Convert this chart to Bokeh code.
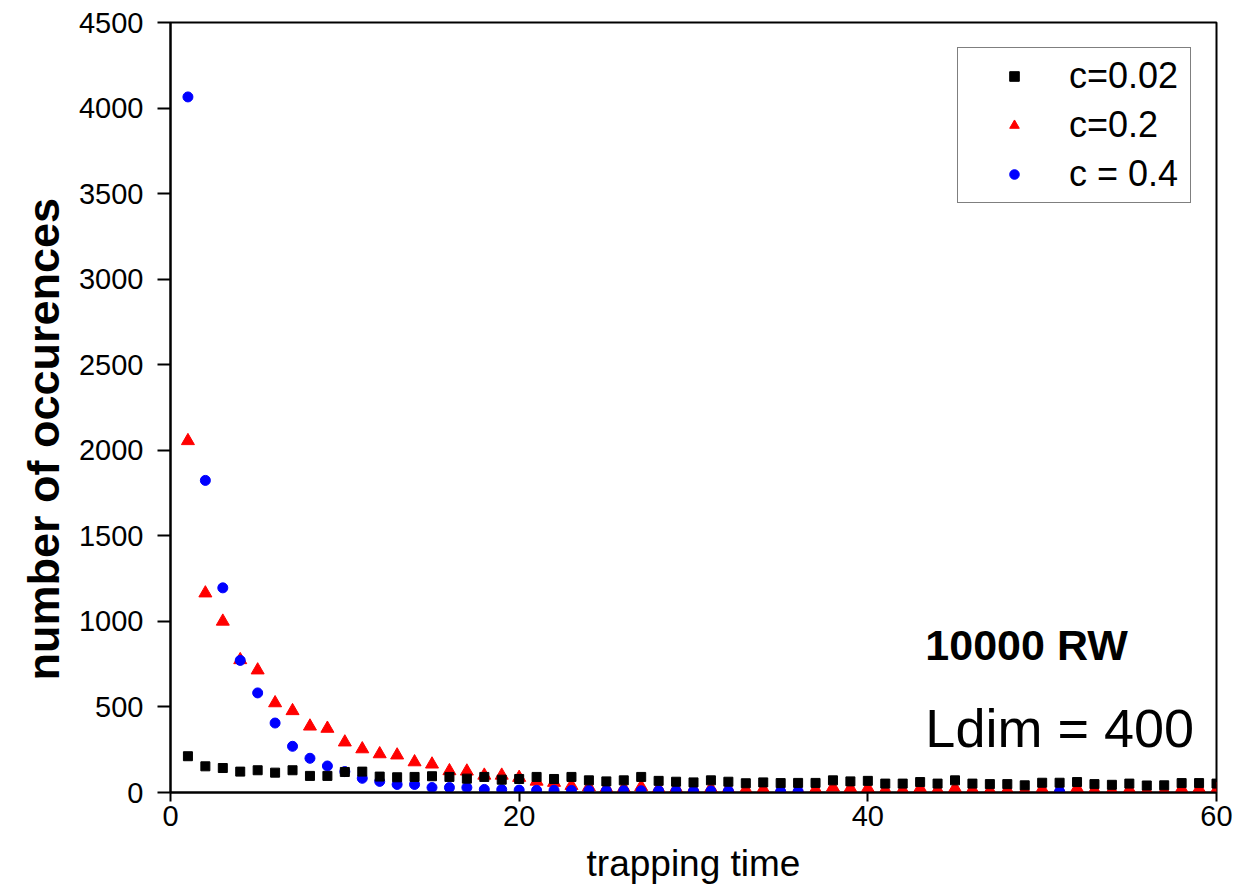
from bokeh.plotting import figure
from bokeh.models import (FixedTicker, Legend, LegendItem, Label, Title)
from bokeh.embed import file_html
from bokeh.resources import INLINE

# ---- data ----
x_all = [1, 2, 3, 4, 5, 6, 7, 8, 9, 10, 11, 12, 13, 14, 15, 16, 17, 18, 19, 20,
         21, 22, 23, 24, 25, 26, 27, 28, 29, 30, 31, 32, 33, 34, 35, 36, 37, 38, 39, 40,
         41, 42, 43, 44, 45, 46, 47, 48, 49, 50, 51, 52, 53, 54, 55, 56, 57, 58, 59, 60]

c002 = [212, 153, 143, 122, 130, 116, 130, 97, 97, 120, 122, 93, 89, 91, 95, 91, 81, 91, 75, 79,
        91, 79, 91, 71, 65, 71, 91, 68, 63, 59, 71, 63, 54, 59, 55, 56, 56, 71, 65, 68,
        52, 52, 61, 52, 71, 52, 49, 49, 42, 57, 57, 61, 49, 45, 52, 41, 42, 55, 55, 52]

c02 = [2055, 1165, 1000, 775, 715, 523, 477, 387, 374, 294, 254, 225, 218, 178, 165, 126, 124, 100, 100, 87,
       65, 58, 40, 32, 25, 25, 33, 22, 24, 20, 24, 20, 18, 20, 15, 15, 18, 30, 25, 25,
       15, 15, 25, 15, 25, 18, 12, 15, 12, 20, 15, 25, 14, 11, 18, 10, 10, 22, 22, 15]

x_c04 = [1, 2, 3, 4, 5, 6, 7, 8, 9, 10, 11, 12, 13, 14, 15, 16, 17, 18, 19, 20,
         21, 22, 23, 24, 25, 26, 27, 28, 29, 30, 31, 32, 35, 36, 51]
c04 = [4065, 1824, 1196, 772, 582, 406, 270, 200, 155, 122, 83, 65, 47, 47, 29, 29, 29, 18, 17, 14,
       13, 13, 12, 12, 11, 11, 10, 10, 10, 9, 9, 9, 6, 6, 5]

y_ticks = [0, 500, 1000, 1500, 2000, 2500, 3000, 3500, 4000, 4500]
x_ticks = [0, 20, 40, 60]
labels = ["c=0.02", "c=0.2", "c = 0.4"]

FONT = "Liberation Sans"

p = figure(width=1234, height=891, x_range=(0, 60), y_range=(0, 4500),
           output_backend="svg", toolbar_location=None,
           min_border_left=170, min_border_right=18, min_border_top=22, min_border_bottom=99,
           background_fill_color="white", border_fill_color="white")

p.xgrid.visible = False
p.ygrid.visible = False
p.outline_line_color = "black"
p.outline_line_width = 2

r_red = p.scatter(x_all, c02, marker="triangle", size=13, fill_color="#ff0000", line_color="#ff0000")
r_blue = p.scatter(x_c04, c04, marker="circle", size=10, fill_color="#0000ff", line_color="#0000ff")
r_black = p.scatter(x_all, c002, marker="square", size=9, fill_color="#000000", line_color="#000000")

for ax in (p.xaxis[0], p.yaxis[0]):
    ax.axis_line_color = "black"
    ax.axis_line_width = 2
    ax.major_tick_line_color = "black"
    ax.major_tick_line_width = 2
    ax.major_tick_in = 0
    ax.minor_tick_line_color = None
    ax.major_label_text_font = FONT
    ax.major_label_text_color = "black"
    ax.axis_label_text_font = FONT
    ax.axis_label_text_color = "black"

p.yaxis[0].ticker = FixedTicker(ticks=y_ticks)
p.xaxis[0].ticker = FixedTicker(ticks=x_ticks)

p.yaxis[0].major_tick_out = 13
p.yaxis[0].major_label_standoff = 14
p.yaxis[0].major_label_text_font_size = "29px"

p.xaxis[0].major_tick_out = 9
p.xaxis[0].major_label_standoff = 4
p.xaxis[0].major_label_text_font_size = "29px"
p.xaxis[0].axis_label = "trapping time"
p.xaxis[0].axis_label_text_font_size = "37px"
p.xaxis[0].axis_label_text_font_style = "normal"
p.xaxis[0].axis_label_standoff = 14

# y-axis title as a left-side Title (reference title sits below the frame centre)
ytitle_kw = dict(text="number of occurences", align="left", offset=112,
                 vertical_align="top", text_font=FONT, text_font_size="45px",
                 text_font_style="bold", text_color="black")
if "standoff" in Title.properties():
    ytitle_kw["standoff"] = 10
p.add_layout(Title(**ytitle_kw), "left")

legend = Legend(items=[LegendItem(label=labels[0], renderers=[r_black]),
                       LegendItem(label=labels[1], renderers=[r_red]),
                       LegendItem(label=labels[2], renderers=[r_blue])],
                location="top_right", margin=25, padding=7, spacing=7,
                glyph_width=98, glyph_height=24, label_height=40, label_width=114,
                label_standoff=6,
                label_text_font=FONT, label_text_font_size="36px", label_text_color="black",
                border_line_color="black", border_line_width=1.5,
                background_fill_color="white", background_fill_alpha=1.0)
p.add_layout(legend)

p.add_layout(Label(x=43.3, y=861, text="10000 RW", text_font=FONT, text_font_size="43px",
                   text_font_style="bold", text_color="black", text_baseline="alphabetic"))
p.add_layout(Label(x=43.3, y=375, text="Ldim = 400", text_font=FONT, text_font_size="54px",
                   text_color="black", text_baseline="alphabetic"))

open("out.html", "w").write(file_html(p, INLINE))
